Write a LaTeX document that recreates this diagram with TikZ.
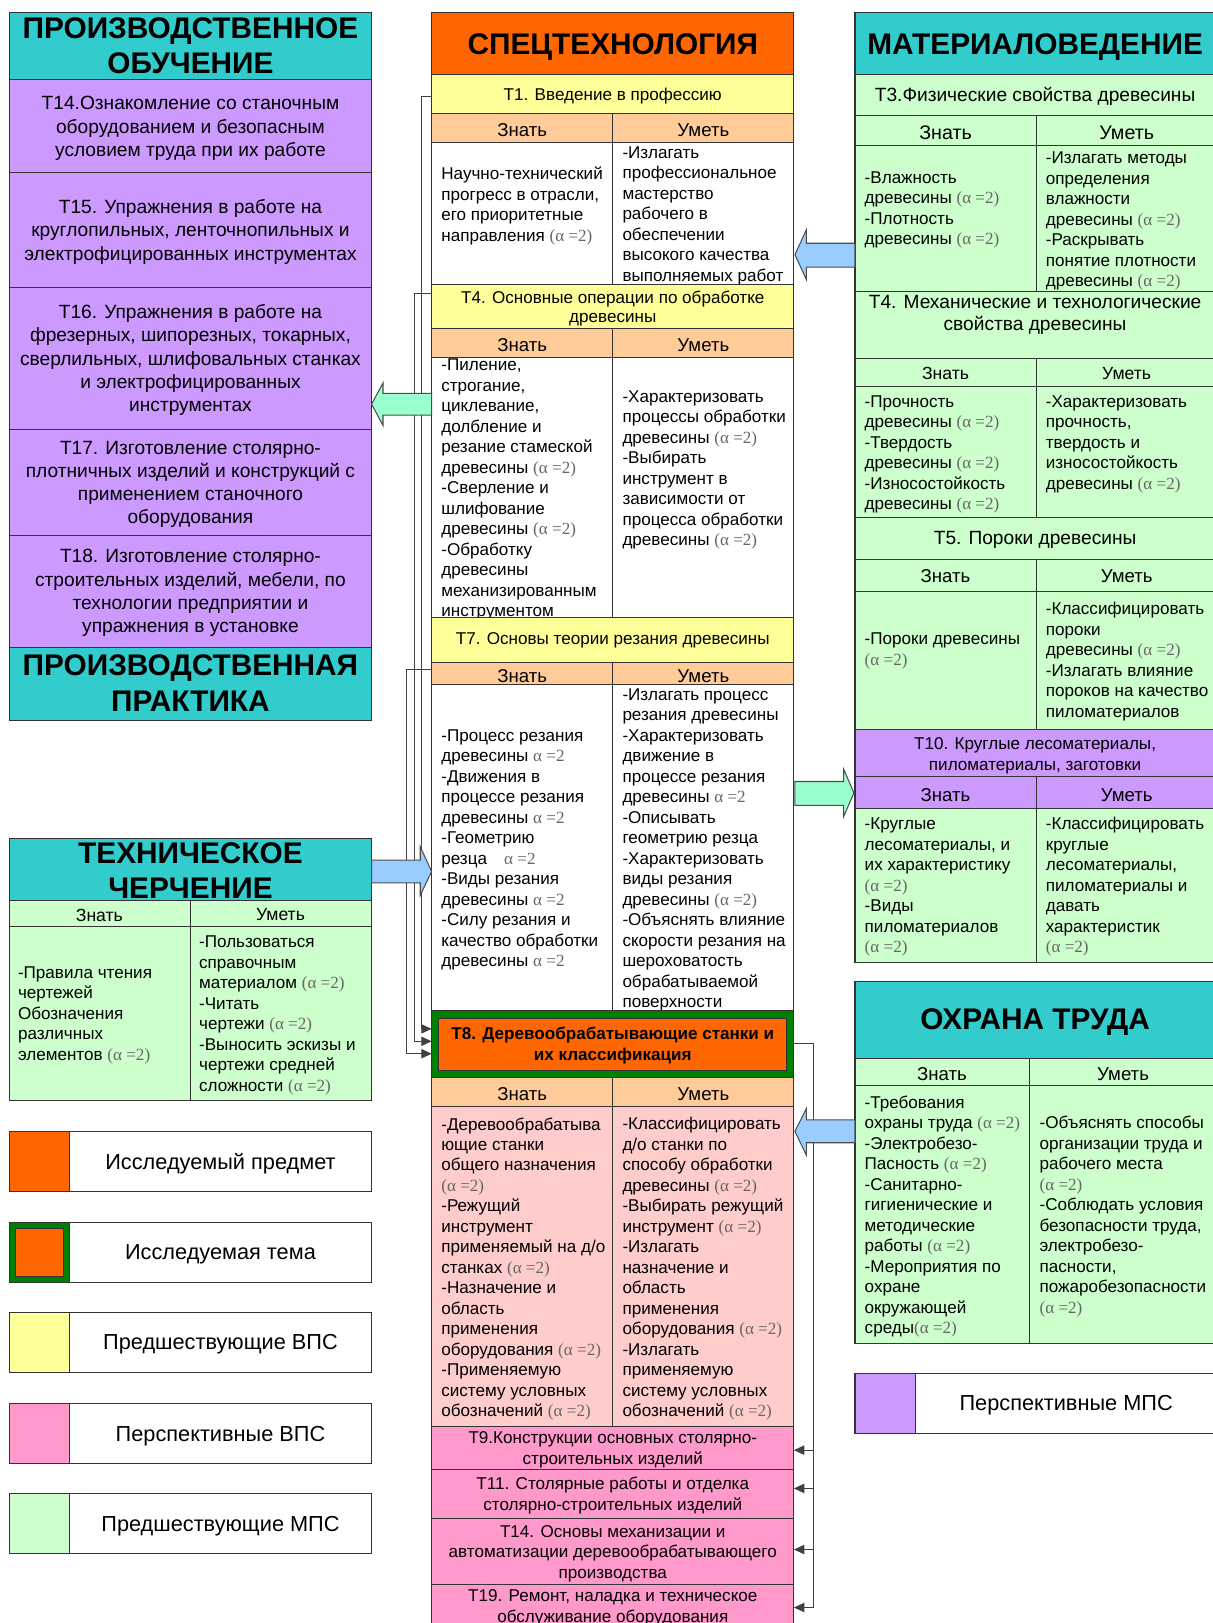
\documentclass[tikz,border=0pt]{standalone}
\usepackage{fontspec}
\setmainfont{Liberation Sans}
\newfontfamily\alfont{Liberation Serif}
\usetikzlibrary{arrows.meta}
\definecolor{cTeal}{HTML}{33CCCC}
\definecolor{cPurple}{HTML}{CC99FF}
\definecolor{cOrange}{HTML}{FF6600}
\definecolor{cYellow}{HTML}{FFFF99}
\definecolor{cPeach}{HTML}{FFCC99}
\definecolor{cLGreen}{HTML}{CCFFCC}
\definecolor{cLPink}{HTML}{FFCCCC}
\definecolor{cPink}{HTML}{FF99CC}
\definecolor{cDGreen}{HTML}{008000}
\definecolor{cBlue}{HTML}{99CCFF}
\definecolor{cMint}{HTML}{99FFCC}
\definecolor{cAl}{HTML}{666666}
\newcommand\alp{{\color{cAl}\alfont(α =2)}}
\newcommand\aln{{\color{cAl}\alfont α =2}}
\tikzset{
 box/.style={draw=black!80, line width=0.5pt},
 ttl/.style={font=\fontsize{14.4}{17}\selectfont\bfseries, align=center, inner sep=0},
 big/.style={font=\fontsize{9.25}{11.25}\selectfont, align=center, inner sep=0, yshift=-1pt},
 rtl/.style={font=\fontsize{9.25}{10.5}\selectfont, align=center, inner sep=0, yshift=-1pt},
 txt/.style={font=\fontsize{8.25}{9.9}\selectfont, align=left, inner sep=0, anchor=west, yshift=-1pt},
 ctxt/.style={font=\fontsize{8.25}{10}\selectfont, align=center, inner sep=0, yshift=-1pt},
 hd/.style={font=\fontsize{9}{10}\selectfont, inner sep=0, yshift=-1pt},
 leg/.style={font=\fontsize{10.5}{12}\selectfont, inner sep=0, yshift=-1pt},
 conn/.style={draw=black!75, line width=0.5pt},
 arr/.style={-{Triangle[length=5pt,width=4.5pt]}},
 barrow/.style={draw=black!70, line width=0.5pt},
}
\begin{document}
\begin{tikzpicture}[x=0.5pt,y=-0.5pt]
\useasboundingbox (0,0) rectangle (1171,1568);
% ================= LEFT COLUMN =================
\draw[box, fill=cTeal] (9,12) rectangle (359,77);
\node[ttl] (hPO) at (184,44) {ПРОИЗВОДСТВЕННОЕ\\ОБУЧЕНИЕ};
\draw[box, fill=cPurple] (9,77) rectangle (359,167);
\node[big] (p14) at (184,122) {Т14.Ознакомление со станочным\\оборудованием и безопасным\\условием труда при их работе};
\draw[box, fill=cPurple] (9,167) rectangle (359,278);
\node[big] (p15) at (184,222) {Т15. Упражнения в работе на\\круглопильных, ленточнопильных и\\электрофицированных инструментах};
\draw[box, fill=cPurple] (9,278) rectangle (359,415);
\node[big] (p16) at (184,346) {Т16. Упражнения в работе на\\фрезерных, шипорезных, токарных,\\сверлильных, шлифовальных станках\\и электрофицированных\\инструментах};
\draw[box, fill=cPurple] (9,415) rectangle (359,517);
\node[big] (p17) at (184,466) {Т17. Изготовление столярно-\\плотничных изделий и конструкций с\\применением станочного\\оборудования};
\draw[box, fill=cPurple] (9,517) rectangle (359,626);
\node[big] (p18) at (184,571) {Т18. Изготовление столярно-\\строительных изделий, мебели, по\\технологии предприятии и\\упражнения в установке};
\draw[box, fill=cTeal] (9,626) rectangle (359,696);
\node[ttl] (hPP) at (184,660) {ПРОИЗВОДСТВЕННАЯ\\ПРАКТИКА};
% Техническое черчение
\draw[box, fill=cTeal] (9,810) rectangle (359,870);
\node[ttl] (hTC) at (184,841) {ТЕХНИЧЕСКОЕ\\ЧЕРЧЕНИЕ};
\draw[box, fill=cLGreen] (9,870) rectangle (184,895);
\draw[box, fill=cLGreen] (184,870) rectangle (359,895);
\node[hd, font=\fontsize{8.5}{10}\selectfont] (tcz) at (96,882) {Знать};
\node[hd, font=\fontsize{8.5}{10}\selectfont] (tcu) at (271,882) {Уметь};
\draw[box, fill=cLGreen] (9,895) rectangle (184,1063);
\draw[box, fill=cLGreen] (184,895) rectangle (359,1063);
\node[txt] (tcl) at (17,979) {-Правила чтения\\чертежей\\Обозначения\\различных\\элементов \alp};
\node[txt] (tcr) at (192,979) {-Пользоваться\\справочным\\материалом \alp\\-Читать\\чертежи \alp\\-Выносить эскизы и\\чертежи средней\\сложности \alp};
% Legend
\draw[box, fill=white] (9,1093) rectangle (359,1151);
\draw[box, fill=cOrange] (9,1093) rectangle (67,1151);
\node[leg] (lg1) at (213,1122) {Исследуемый предмет};
\draw[box, fill=white] (9,1181) rectangle (359,1239);
\draw[box, fill=cDGreen] (9,1181) rectangle (67,1239);
\draw[box, fill=cOrange] (15,1187) rectangle (61,1233);
\node[leg] (lg2) at (213,1210) {Исследуемая тема};
\draw[box, fill=white] (9,1268) rectangle (359,1326);
\draw[box, fill=cYellow] (9,1268) rectangle (67,1326);
\node[leg] (lg3) at (213,1297) {Предшествующие ВПС};
\draw[box, fill=white] (9,1356) rectangle (359,1414);
\draw[box, fill=cPink] (9,1356) rectangle (67,1414);
\node[leg] (lg4) at (213,1385) {Перспективные ВПС};
\draw[box, fill=white] (9,1443) rectangle (359,1501);
\draw[box, fill=cLGreen] (9,1443) rectangle (67,1501);
\node[leg] (lg5) at (213,1472) {Предшествующие МПС};
\draw[box, fill=white] (826,1327) rectangle (1180,1385);
\draw[box, fill=cPurple] (826,1327) rectangle (884,1385);
\node[leg] (lg6) at (1030,1356) {Перспективные МПС};
% ================= CENTER COLUMN =================
\draw[box, fill=cOrange] (417,12) rectangle (767,72);
\node[ttl, yshift=-1.5pt] (hST) at (592,42) {СПЕЦТЕХНОЛОГИЯ};
% T1
\draw[box, fill=cYellow] (417,72) rectangle (767,110);
\node[ctxt] (c1) at (592,91) {Т1. Введение в профессию};
\draw[box, fill=cPeach] (417,110) rectangle (592,138);
\draw[box, fill=cPeach] (592,110) rectangle (767,138);
\node[hd] (c1z) at (504.5,124) {Знать};
\node[hd] (c1u) at (679.5,124) {Уметь};
\draw[box, fill=white] (417,138) rectangle (592,275);
\draw[box, fill=white] (592,138) rectangle (767,275);
\node[txt] (c1l) at (426,197) {Научно-технический\\прогресс в отрасли,\\его приоритетные\\направления \alp};
\node[txt] (c1r) at (601,206.5) {-Излагать\\профессиональное\\мастерство\\рабочего в\\обеспечении\\высокого качества\\выполняемых работ};
% T4
\draw[box, fill=cYellow] (417,275) rectangle (767,317);
\node[ctxt, font=\fontsize{8.25}{9}\selectfont] (c4) at (592,296) {Т4. Основные операции по обработке\\древесины};
\draw[box, fill=cPeach] (417,317) rectangle (592,345);
\draw[box, fill=cPeach] (592,317) rectangle (767,345);
\node[hd] (c4z) at (504.5,331) {Знать};
\node[hd] (c4u) at (679.5,331) {Уметь};
\draw[box, fill=white] (417,345) rectangle (592,597);
\draw[box, fill=white] (592,345) rectangle (767,597);
\node[txt] (c4l) at (426,471) {-Пиление,\\строгание,\\циклевание,\\долбление и\\резание стамеской\\древесины \alp\\-Сверление и\\шлифование\\древесины \alp\\-Обработку\\древесины\\механизированным\\инструментом};
\node[txt] (c4r) at (601,452) {-Характеризовать\\процессы обработки\\древесины \alp\\-Выбирать\\инструмент в\\зависимости от\\процесса обработки\\древесины \alp};
% T7
\draw[box, fill=cYellow] (417,597) rectangle (767,640);
\node[ctxt] (c7) at (592,617) {Т7. Основы теории резания древесины};
\draw[box, fill=cPeach] (417,640) rectangle (592,661);
\draw[box, fill=cPeach] (592,640) rectangle (767,661);
\node[hd] (c7z) at (504.5,651) {Знать};
\node[hd] (c7u) at (679.5,651) {Уметь};
\draw[box, fill=white] (417,661) rectangle (592,976);
\draw[box, fill=white] (592,661) rectangle (767,976);
\node[txt] (c7l) at (426,819) {-Процесс резания\\древесины \aln\\-Движения в\\процессе резания\\древесины \aln\\-Геометрию\\резца\quad\aln\\-Виды резания\\древесины \aln\\-Силу резания и\\качество обработки\\древесины \aln};
\node[txt] (c7r) at (601,819) {-Излагать процесс\\резания древесины\\-Характеризовать\\движение в\\процессе резания\\древесины \aln\\-Описывать\\геометрию резца\\-Характеризовать\\виды резания\\древесины \alp\\-Объяснять влияние\\скорости резания на\\шероховатость\\обрабатываемой\\поверхности};
% T8
\draw[box, fill=cDGreen] (417,976) rectangle (767,1041);
\draw[box, fill=cOrange] (424,984) rectangle (760,1034);
\node[ctxt, font=\fontsize{8.25}{10}\selectfont\bfseries] (c8) at (592,1008) {Т8. Деревообрабатывающие станки и\\их классификация};
\draw[box, fill=cPeach] (417,1041) rectangle (592,1069);
\draw[box, fill=cPeach] (592,1041) rectangle (767,1069);
\node[hd] (c8z) at (504.5,1055) {Знать};
\node[hd] (c8u) at (679.5,1055) {Уметь};
\draw[box, fill=cLPink] (417,1069) rectangle (592,1378);
\draw[box, fill=cLPink] (592,1069) rectangle (767,1378);
\node[txt] (c8l) at (426,1224) {-Деревообрабатыва\\ющие станки\\общего назначения\\\alp\\-Режущий\\инструмент\\применяемый на д/о\\станках \alp\\-Назначение и\\область\\применения\\оборудования \alp\\-Применяемую\\систему условных\\обозначений \alp};
\node[txt] (c8r) at (601,1224) {-Классифицировать\\д/о станки по\\способу обработки\\древесины \alp\\-Выбирать режущий\\инструмент \alp\\-Излагать\\назначение и\\область\\применения\\оборудования \alp\\-Излагать\\применяемую\\систему условных\\обозначений \alp};
% pink topics
\draw[box, fill=cPink] (417,1378) rectangle (767,1420);
\node[ctxt] (c9) at (592,1399) {Т9.Конструкции основных столярно-\\строительных изделий};
\draw[box, fill=cPink] (417,1420) rectangle (767,1467);
\node[ctxt] (c11) at (592,1443) {Т11. Столярные работы и отделка\\столярно-строительных изделий};
\draw[box, fill=cPink] (417,1467) rectangle (767,1531);
\node[ctxt] (c14) at (592,1499) {Т14. Основы механизации и\\автоматизации деревообрабатывающего\\производства};
\draw[box, fill=cPink] (417,1531) rectangle (767,1580);
\node[ctxt] (c19) at (592,1551.5) {Т19. Ремонт, наладка и техническое\\обслуживание оборудования};
% ================= RIGHT COLUMN =================
\draw[box, fill=cTeal] (826,12) rectangle (1180,72);
\node[ttl, yshift=-1.5pt] (hMV) at (1000,42) {МАТЕРИАЛОВЕДЕНИЕ};
\draw[box, fill=cLGreen] (826,72) rectangle (1180,112);
\node[rtl] (r3) at (1000,91) {Т3.Физические свойства древесины};
\draw[box, fill=cLGreen] (826,112) rectangle (1001,141);
\draw[box, fill=cLGreen] (1001,112) rectangle (1180,141);
\node[hd, font=\fontsize{9.5}{10}\selectfont] (r3z) at (913.5,126) {Знать};
\node[hd, font=\fontsize{9.5}{10}\selectfont] (r3u) at (1088.5,126) {Уметь};
\draw[box, fill=cLGreen] (826,141) rectangle (1001,282);
\draw[box, fill=cLGreen] (1001,141) rectangle (1180,282);
\node[txt] (r3l) at (835,201) {-Влажность\\древесины \alp\\-Плотность\\древесины \alp};
\node[txt] (r3r) at (1010,211.5) {-Излагать методы\\определения\\влажности\\древесины \alp\\-Раскрывать\\понятие плотности\\древесины \alp};
% T4 right
\draw[box, fill=cLGreen] (826,282) rectangle (1180,346);
\node[rtl] (r4) at (1000,302.5) {Т4. Механические и технологические\\свойства древесины};
\draw[box, fill=cLGreen] (826,346) rectangle (1001,373);
\draw[box, fill=cLGreen] (1001,346) rectangle (1180,373);
\node[hd, font=\fontsize{8.5}{10}\selectfont] (r4z) at (913.5,359) {Знать};
\node[hd, font=\fontsize{8.5}{10}\selectfont] (r4u) at (1088.5,359) {Уметь};
\draw[box, fill=cLGreen] (826,373) rectangle (1001,500);
\draw[box, fill=cLGreen] (1001,373) rectangle (1180,500);
\node[txt] (r4l) at (835,437) {-Прочность\\древесины \alp\\-Твердость\\древесины \alp\\-Износостойкость\\древесины \alp};
\node[txt] (r4r) at (1010,427) {-Характеризовать\\прочность,\\твердость и\\износостойкость\\древесины \alp};
% T5
\draw[box, fill=cLGreen] (826,500) rectangle (1180,541);
\node[rtl] (r5) at (1000,520) {Т5. Пороки древесины};
\draw[box, fill=cLGreen] (826,541) rectangle (1001,571);
\draw[box, fill=cLGreen] (1001,541) rectangle (1180,571);
\node[hd] (r5z) at (913.5,555) {Знать};
\node[hd] (r5u) at (1088.5,555) {Уметь};
\draw[box, fill=cLGreen] (826,571) rectangle (1001,705);
\draw[box, fill=cLGreen] (1001,571) rectangle (1180,705);
\node[txt] (r5l) at (835,627) {-Пороки древесины\\\alp};
\node[txt] (r5r) at (1010,637) {-Классифицировать\\пороки\\древесины \alp\\-Излагать влияние\\пороков на качество\\пиломатериалов};
% T10
\draw[box, fill=cPurple] (826,705) rectangle (1180,750);
\node[ctxt] (r10) at (1000,728) {Т10. Круглые лесоматериалы,\\пиломатериалы, заготовки};
\draw[box, fill=cPurple] (826,750) rectangle (1001,781);
\draw[box, fill=cPurple] (1001,750) rectangle (1180,781);
\node[hd] (r10z) at (913.5,766) {Знать};
\node[hd] (r10u) at (1088.5,766) {Уметь};
\draw[box, fill=cLGreen] (826,781) rectangle (1001,930);
\draw[box, fill=cLGreen] (1001,781) rectangle (1180,930);
\node[txt] (r10l) at (835,855) {-Круглые\\лесоматериалы, и\\их характеристику\\\alp\\-Виды\\пиломатериалов\\\alp};
\node[txt] (r10r) at (1010,855) {-Классифицировать\\круглые\\лесоматериалы,\\пиломатериалы и\\давать\\характеристик\\\alp};
% Охрана труда
\draw[box, fill=cTeal] (826,948) rectangle (1180,1023);
\node[ttl, yshift=-1.5pt] (hOT) at (1000,984) {ОХРАНА ТРУДА};
\draw[box, fill=cLGreen] (826,1023) rectangle (995,1049);
\draw[box, fill=cLGreen] (995,1023) rectangle (1180,1049);
\node[hd] (otz) at (910,1036) {Знать};
\node[hd] (otu) at (1085,1036) {Уметь};
\draw[box, fill=cLGreen] (826,1049) rectangle (995,1298);
\draw[box, fill=cLGreen] (995,1049) rectangle (1180,1298);
\node[txt] (otl) at (835,1173.5) {-Требования\\охраны труда \alp\\-Электробезо-\\Пасность \alp\\-Санитарно-\\гигиенические и\\методические\\работы \alp\\-Мероприятия по\\охране\\окружающей\\среды\alp};
\node[txt] (otr) at (1004,1173.5) {-Объяснять способы\\организации труда и\\рабочего места\\\alp\\-Соблюдать условия\\безопасности труда,\\электробезо-\\пасности,\\пожаробезопасности\\\alp};
% ================= CONNECTORS =================
\coordinate (s1) at (417,93);
\coordinate (s4) at (417,284);
\coordinate (s7) at (417,647);
\coordinate (e1) at (417,994);
\coordinate (e2) at (417,1006);
\coordinate (e3) at (417,1018);
\draw[conn, arr] (s1) -- ++(-10,0) |- (e1);
\draw[conn, arr] (s4) -- ++(-17,0) |- (e2);
\draw[conn, arr] (s7) -- ++(-24,0) |- (e3);
\coordinate (s8) at (767,1008);
\coordinate (bus) at (786,1008);
\coordinate (t9) at (767,1401);
\coordinate (t11) at (767,1438);
\coordinate (t14) at (767,1497);
\coordinate (t19) at (767,1553);
\draw[conn] (s8) -- (bus) -- (bus |- t19);
\draw[conn, arr] (bus |- t9) -- (t9);
\draw[conn, arr] (bus |- t11) -- (t11);
\draw[conn, arr] (bus |- t14) -- (t14);
\draw[conn, arr] (bus |- t19) -- (t19);
% ================= BLOCK ARROWS =================
\draw[barrow, fill=cBlue] (826,235) -- (779,235) -- (779,222) -- (768,246) -- (779,270) -- (779,258) -- (826,258) -- cycle;
\draw[barrow, fill=cMint] (417,380) -- (370,380) -- (370,370) -- (359,390.5) -- (370,411) -- (370,401) -- (417,401) -- cycle;
\draw[barrow, fill=cMint] (768,755) -- (815,755) -- (815,743) -- (825,766) -- (815,789) -- (815,778) -- (768,778) -- cycle;
\draw[barrow, fill=cBlue] (359,831) -- (406,831) -- (406,818) -- (417,842) -- (406,865) -- (406,853) -- (359,853) -- cycle;
\draw[barrow, fill=cBlue] (826,1082) -- (779,1082) -- (779,1071) -- (768,1093) -- (779,1116) -- (779,1104) -- (826,1104) -- cycle;
\end{tikzpicture}
\end{document}
